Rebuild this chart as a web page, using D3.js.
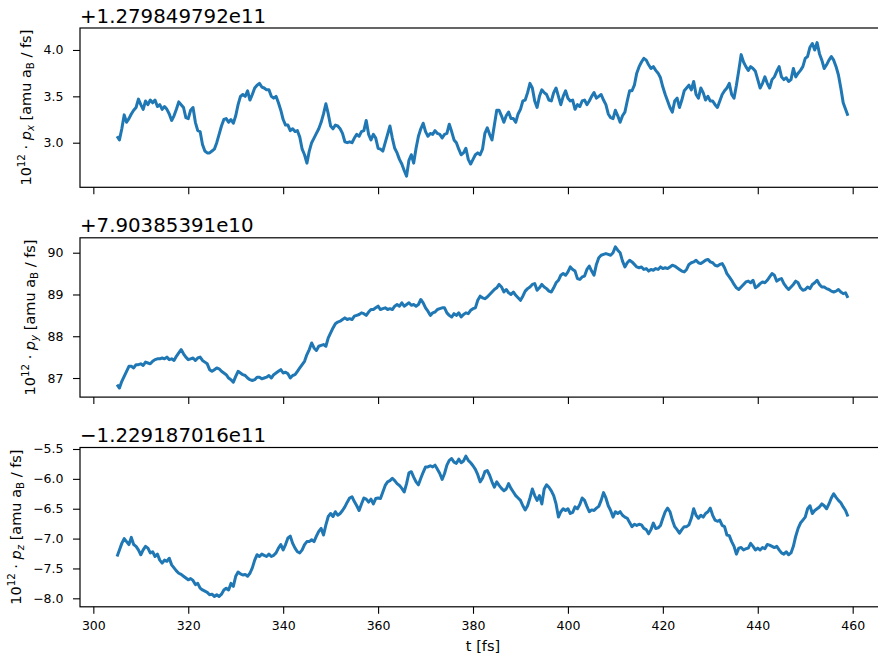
<!DOCTYPE html>
<html>
<head>
<meta charset="utf-8">
<script src="https://cdn.jsdelivr.net/npm/d3@7"></script>
<style>
  body { margin: 0; background: #fff; }
  text { font-family: "DejaVu Sans", sans-serif; fill: #000; }
</style>
</head>
<body>
<svg id="fig" width="878" height="658"></svg>
<script>
// Sampling of the momentum trajectory (fs)
const T0 = 305, DT = 0.5;

// 10^12 * p_x minus offset, one row per 5 fs
const pxValues = [
  3.07,3.03,3.15,3.30,3.22,3.26,3.31,3.35,3.38,3.47,
  3.41,3.36,3.45,3.41,3.46,3.43,3.46,3.39,3.41,3.36,
  3.39,3.36,3.31,3.24,3.29,3.36,3.44,3.41,3.38,3.27,
  3.26,3.35,3.38,3.22,3.13,3.12,2.98,2.91,2.89,2.89,
  2.91,2.93,3.00,3.09,3.18,3.25,3.26,3.22,3.25,3.21,
  3.29,3.41,3.50,3.52,3.50,3.56,3.46,3.52,3.59,3.62,
  3.64,3.60,3.59,3.57,3.57,3.50,3.48,3.50,3.43,3.35,
  3.25,3.19,3.19,3.13,3.15,3.12,3.13,3.06,2.93,2.87,
  2.78,2.91,3.00,3.05,3.10,3.15,3.22,3.31,3.42,3.31,
  3.18,3.15,3.19,3.18,3.15,3.10,3.01,3.00,3.01,3.00,
  3.05,3.09,3.07,3.12,3.13,3.24,3.09,3.03,3.09,3.05,
  2.94,2.93,2.91,3.00,3.09,3.18,3.05,2.94,2.89,2.82,
  2.77,2.70,2.64,2.81,2.87,2.78,2.94,3.07,3.15,3.21,
  3.12,3.07,3.10,3.09,3.13,3.10,3.09,3.05,3.09,3.10,
  3.20,3.12,3.03,3.00,2.93,2.87,2.89,2.94,2.82,2.77,
  2.82,2.87,2.89,2.87,2.93,3.10,3.16,3.09,3.03,3.19,
  3.35,3.35,3.29,3.22,3.29,3.33,3.26,3.26,3.22,3.31,
  3.36,3.45,3.46,3.54,3.64,3.59,3.45,3.38,3.50,3.57,
  3.54,3.52,3.46,3.45,3.54,3.59,3.50,3.41,3.50,3.56,
  3.48,3.45,3.46,3.36,3.41,3.39,3.45,3.46,3.41,3.45,
  3.50,3.54,3.48,3.50,3.52,3.46,3.41,3.31,3.27,3.26,
  3.35,3.29,3.22,3.29,3.33,3.45,3.56,3.56,3.62,3.75,
  3.82,3.87,3.91,3.89,3.84,3.80,3.82,3.78,3.75,3.70,
  3.60,3.52,3.45,3.38,3.33,3.45,3.48,3.38,3.46,3.56,
  3.59,3.62,3.57,3.66,3.52,3.48,3.59,3.54,3.46,3.50,
  3.45,3.45,3.41,3.38,3.45,3.52,3.56,3.59,3.64,3.52,
  3.48,3.62,3.78,3.95,3.87,3.82,3.78,3.82,3.80,3.77,
  3.68,3.59,3.64,3.71,3.64,3.59,3.68,3.71,3.77,3.82,
  3.71,3.68,3.70,3.66,3.68,3.80,3.71,3.75,3.78,3.82,
  3.91,3.93,4.03,4.07,4.00,4.08,3.96,3.89,3.80,3.84,
  3.89,3.93,3.89,3.82,3.73,3.59,3.43,3.36,3.29
];

// 10^12 * p_y minus offset
const pyValues = [
  86.84,86.76,86.92,87.04,87.16,87.28,87.28,87.24,87.32,87.32,
  87.34,87.30,87.38,87.36,87.34,87.40,87.44,87.46,87.46,87.48,
  87.46,87.50,87.44,87.46,87.42,87.52,87.60,87.68,87.58,87.50,
  87.44,87.46,87.48,87.42,87.48,87.50,87.42,87.38,87.34,87.20,
  87.16,87.20,87.24,87.22,87.16,87.12,87.08,87.00,86.96,86.90,
  87.04,87.16,87.12,87.08,87.06,87.00,86.96,86.94,86.96,87.02,
  87.02,86.98,87.00,87.02,87.06,87.00,87.08,87.12,87.16,87.20,
  87.12,87.14,87.10,87.00,87.06,87.08,87.16,87.24,87.32,87.40,
  87.56,87.68,87.84,87.72,87.66,87.76,87.78,87.80,87.76,87.96,
  88.08,88.20,88.30,88.34,88.36,88.40,88.44,88.40,88.42,88.40,
  88.48,88.50,88.52,88.56,88.54,88.50,88.58,88.64,88.64,88.68,
  88.72,88.64,88.66,88.68,88.64,88.66,88.64,88.72,88.76,88.72,
  88.80,88.72,88.76,88.80,88.74,88.76,88.72,88.76,88.88,88.80,
  88.68,88.60,88.50,88.56,88.58,88.64,88.66,88.68,88.68,88.56,
  88.50,88.46,88.54,88.50,88.56,88.46,88.52,88.56,88.54,88.62,
  88.66,88.68,88.86,88.96,88.92,88.90,88.94,89.00,89.06,89.12,
  89.16,89.24,89.18,89.06,89.12,89.04,89.00,89.06,88.98,88.92,
  88.86,88.96,89.08,89.14,89.18,89.24,89.26,89.10,89.16,89.24,
  89.18,89.14,89.08,89.06,89.16,89.28,89.34,89.46,89.50,89.46,
  89.54,89.66,89.60,89.56,89.38,89.36,89.42,89.44,89.60,89.68,
  89.56,89.46,89.72,89.88,89.94,89.96,89.98,89.96,89.94,90.00,
  90.14,90.06,90.00,89.80,89.66,89.76,89.82,89.78,89.72,89.66,
  89.64,89.66,89.60,89.62,89.56,89.60,89.58,89.62,89.60,89.66,
  89.62,89.64,89.62,89.66,89.70,89.68,89.64,89.60,89.56,89.54,
  89.60,89.72,89.76,89.78,89.82,89.76,89.74,89.78,89.82,89.84,
  89.78,89.76,89.70,89.68,89.72,89.74,89.64,89.50,89.42,89.34,
  89.24,89.16,89.12,89.18,89.24,89.30,89.32,89.28,89.34,89.16,
  89.20,89.26,89.30,89.28,89.34,89.42,89.50,89.46,89.32,89.36,
  89.38,89.26,89.18,89.12,89.18,89.24,89.32,89.28,89.16,89.10,
  89.12,89.18,89.14,89.24,89.28,89.34,89.24,89.18,89.18,89.14,
  89.12,89.08,89.06,89.08,89.12,89.06,89.02,89.04,88.92
];

// 10^12 * p_z minus offset
const pzValues = [
  -7.30,-7.19,-7.08,-7.00,-7.05,-7.10,-6.98,-7.10,-7.13,-7.19,
  -7.27,-7.19,-7.13,-7.16,-7.24,-7.22,-7.30,-7.26,-7.36,-7.41,
  -7.36,-7.38,-7.33,-7.44,-7.49,-7.54,-7.58,-7.60,-7.63,-7.66,
  -7.69,-7.67,-7.70,-7.77,-7.75,-7.83,-7.86,-7.88,-7.90,-7.94,
  -7.93,-7.97,-7.94,-7.97,-7.93,-7.86,-7.83,-7.86,-7.75,-7.80,
  -7.63,-7.56,-7.59,-7.61,-7.60,-7.63,-7.58,-7.49,-7.36,-7.27,
  -7.30,-7.26,-7.28,-7.30,-7.26,-7.30,-7.28,-7.24,-7.16,-7.10,
  -7.19,-7.10,-6.99,-6.96,-7.08,-7.16,-7.22,-7.24,-7.19,-7.10,
  -7.05,-7.05,-7.02,-7.05,-6.96,-6.88,-6.83,-6.94,-6.77,-6.63,
  -6.58,-6.63,-6.55,-6.61,-6.58,-6.53,-6.47,-6.39,-6.32,-6.30,
  -6.38,-6.45,-6.53,-6.42,-6.32,-6.34,-6.39,-6.34,-6.42,-6.33,
  -6.32,-6.33,-6.22,-6.11,-6.05,-6.03,-5.99,-6.03,-6.08,-6.11,
  -6.16,-6.22,-6.08,-5.90,-5.88,-5.97,-6.05,-6.10,-5.99,-5.89,
  -5.80,-5.80,-5.78,-5.80,-5.77,-5.84,-5.91,-6.01,-5.91,-5.77,
  -5.69,-5.66,-5.72,-5.74,-5.67,-5.73,-5.70,-5.62,-5.69,-5.73,
  -5.78,-5.84,-5.93,-6.05,-5.99,-5.88,-5.86,-5.94,-6.05,-6.14,
  -6.05,-6.11,-6.16,-6.20,-6.17,-6.08,-6.16,-6.22,-6.28,-6.32,
  -6.36,-6.45,-6.52,-6.45,-6.32,-6.17,-6.28,-6.36,-6.28,-6.42,
  -6.17,-6.10,-6.14,-6.20,-6.28,-6.42,-6.64,-6.55,-6.50,-6.53,
  -6.50,-6.58,-6.56,-6.47,-6.50,-6.43,-6.32,-6.36,-6.46,-6.55,
  -6.52,-6.53,-6.49,-6.46,-6.36,-6.23,-6.32,-6.45,-6.53,-6.64,
  -6.55,-6.58,-6.55,-6.61,-6.64,-6.66,-6.73,-6.80,-6.76,-6.78,
  -6.76,-6.77,-6.83,-6.85,-6.92,-6.85,-6.74,-6.83,-6.82,-6.78,
  -6.66,-6.55,-6.49,-6.55,-6.69,-6.80,-6.85,-6.91,-6.85,-6.80,
  -6.80,-6.77,-6.66,-6.50,-6.61,-6.66,-6.61,-6.64,-6.58,-6.55,
  -6.49,-6.61,-6.69,-6.71,-6.69,-6.78,-6.80,-6.94,-6.95,-7.05,
  -7.13,-7.26,-7.16,-7.15,-7.19,-7.17,-7.16,-7.08,-7.13,-7.19,
  -7.16,-7.19,-7.15,-7.17,-7.10,-7.11,-7.13,-7.15,-7.13,-7.19,
  -7.24,-7.26,-7.22,-7.27,-7.24,-7.13,-6.96,-6.83,-6.74,-6.69,
  -6.64,-6.50,-6.45,-6.58,-6.53,-6.50,-6.47,-6.42,-6.45,-6.50,
  -6.42,-6.32,-6.25,-6.31,-6.36,-6.40,-6.47,-6.53,-6.63
];

const offsetLabels = ["+1.279849792e11", "+7.90385391e10", "\u22121.229187016e11"];
const components   = ["x", "y", "z"];

const pxTicks = [3.0, 3.5, 4.0];
const pyTicks = [87, 88, 89, 90];
const pzTicks = [-8.0, -7.5, -7.0, -6.5, -6.0, -5.5];
const pxLimits = [2.519, 4.237];
const pyLimits = [86.543, 90.357];
const pzLimits = [-8.142, -5.475];

const timeTicks  = [300, 320, 340, 360, 380, 400, 420, 440, 460];
const timeLimits = [297.19, 467.02];

// ---- layout ----
const left = 80, right = 886, panelH = 159.3;
const tops = [28, 237.8, 447.5];
const tickLen = 7;
const lineColor = "#1f77b4";

const panels = [
  { values: pxValues, ticks: pxTicks, limits: pxLimits, fmt: d3.format(".1f") },
  { values: pyValues, ticks: pyTicks, limits: pyLimits, fmt: d3.format("d") },
  { values: pzValues, ticks: pzTicks, limits: pzLimits, fmt: d3.format(".1f") }
];

const svg = d3.select("#fig");
svg.append("rect").attr("width", 878).attr("height", 658).attr("fill", "#fff");

const x = d3.scaleLinear().domain(timeLimits).range([left, right]);

panels.forEach((p, k) => {
  const top = tops[k], bottom = top + panelH;
  const y = d3.scaleLinear().domain(p.limits).range([bottom, top]);
  const g = svg.append("g");

  // trajectory
  const line = d3.line()
    .x((d, i) => x(T0 + i * DT))
    .y(d => y(d));
  g.append("path")
    .datum(p.values)
    .attr("fill", "none")
    .attr("stroke", lineColor)
    .attr("stroke-width", 3)
    .attr("stroke-linejoin", "round")
    .attr("d", line);

  // y axis
  const yAxis = g.append("g")
    .attr("transform", `translate(${left},0)`)
    .call(d3.axisLeft(y).tickValues(p.ticks).tickFormat(p.fmt)
      .tickSize(tickLen).tickPadding(9.5));
  yAxis.select(".domain").remove();
  yAxis.selectAll(".tick line").attr("stroke", "#000").attr("stroke-width", 1.1);
  yAxis.selectAll(".tick text")
    .style("font-family", '"DejaVu Sans", sans-serif')
    .style("font-size", "12.5px").attr("fill", "#000");

  // x axis (labels only on the lowest panel)
  const xAxis = g.append("g")
    .attr("transform", `translate(0,${bottom})`)
    .call(d3.axisBottom(x).tickValues(timeTicks).tickFormat(d3.format("d"))
      .tickSize(tickLen));
  xAxis.select(".domain").remove();
  xAxis.selectAll(".tick line").attr("stroke", "#000").attr("stroke-width", 1.1);
  if (k < 2) {
    xAxis.selectAll(".tick text").remove();
  } else {
    xAxis.selectAll(".tick text")
      .attr("y", 23.5).attr("dy", "0")
      .style("font-family", '"DejaVu Sans", sans-serif')
      .style("font-size", "12.5px").attr("fill", "#000");
  }

  // frame
  g.append("rect")
    .attr("x", left).attr("y", top)
    .attr("width", right - left).attr("height", panelH)
    .attr("fill", "none").attr("stroke", "#000").attr("stroke-width", 1.2);

  // offset text
  g.append("text")
    .attr("x", left).attr("y", top - 5.5)
    .style("font-size", "19.8px")
    .text(offsetLabels[k]);

  // y label, placed left of the widest tick label
  let minX = Infinity;
  yAxis.selectAll(".tick text").each(function () {
    const b = this.getBBox();
    const m = this.parentNode.transform.baseVal.consolidate();
    minX = Math.min(minX, left + b.x + (m ? m.matrix.e : 0));
  });
  const bx = minX - 12.5, cy = (top + bottom) / 2;
  const lab = g.append("text")
    .attr("transform", `translate(${bx},${cy}) rotate(-90)`)
    .attr("text-anchor", "middle")
    .style("font-size", "14.5px");
  lab.append("tspan").text("10");
  lab.append("tspan").attr("dy", -6).style("font-size", "10.2px").text("12");
  lab.append("tspan").attr("dy", 6).text(" \u00b7 ");
  lab.append("tspan").style("font-style", "italic").text("p");
  lab.append("tspan").attr("dy", 3).style("font-size", "10.2px")
    .style("font-style", "italic").text(components[k]);
  lab.append("tspan").attr("dy", -3).text(" [amu a");
  lab.append("tspan").attr("dy", 3).style("font-size", "10.2px").text("B");
  lab.append("tspan").attr("dy", -3).text(" / fs]");
});

// shared x label
svg.append("text")
  .attr("x", (left + right) / 2).attr("y", 650.5)
  .attr("text-anchor", "middle")
  .style("font-size", "14.5px")
  .text("t [fs]");
</script>
</body>
</html>
